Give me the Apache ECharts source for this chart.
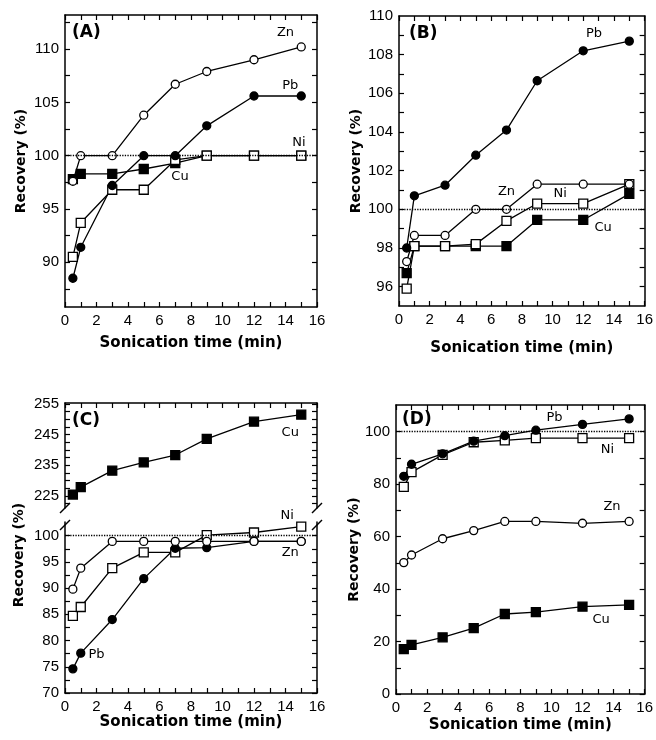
<!DOCTYPE html>
<html>
<head>
<meta charset="utf-8">
<script src="https://cdn.jsdelivr.net/npm/echarts@6.0.0/dist/echarts.min.js"></script>
<style>
  html, body { margin: 0; padding: 0; background: #fff; }
  #chart { width: 656px; height: 740px; }
</style>
</head>
<body>
<div id="chart"></div>
<script>
// sonication time (min)
var times = [0.5, 1, 3, 5, 7, 9, 12, 15];
var xLabels = [0, 2, 4, 6, 8, 10, 12, 14, 16];

// (A)
var aZn = [97.6, 100, 100, 103.8, 106.7, 107.9, 109.0, 110.2];
var aPb = [88.5, 91.4, 97.2, 100, 100, 102.8, 105.6, 105.6];
var aNi = [90.5, 93.7, 96.8, 96.8, 99.6, 100, 100, 100];
var aCu = [97.8, 98.3, 98.3, 98.75, 99.3, 100, 100, 100];
var aText = [[14.0, 111.5, 'Zn'], [14.3, 106.6, 'Pb'], [14.85, 101.2, 'Ni'], [7.3, 98.0, 'Cu']];
var aYLabels = [90, 95, 100, 105, 110];
var aYTicks = [87.5, 90, 92.5, 95, 97.5, 100, 102.5, 105, 107.5, 110, 112.5];

// (B)
var bZn = [97.3, 98.65, 98.65, 100, 100, 101.3, 101.3, 101.3];
var bPb = [98.0, 100.7, 101.25, 102.8, 104.1, 106.65, 108.2, 108.7];
var bNi = [95.9, 98.1, 98.1, 98.2, 99.4, 100.3, 100.3, 101.3];
var bCu = [96.7, 98.1, 98.1, 98.1, 98.1, 99.45, 99.45, 100.8];
var bText = [[12.7, 109.1, 'Pb'], [7.0, 100.9, 'Zn'], [10.5, 100.8, 'Ni'], [13.3, 99.05, 'Cu']];
var bYLabels = [96, 98, 100, 102, 104, 106, 108, 110];
var bYTicks = [96, 97, 98, 99, 100, 101, 102, 103, 104, 105, 106, 107, 108, 109];

// (C) upper part
var cCu = [225.4, 227.8, 233.2, 235.9, 238.3, 243.6, 249.2, 251.5];
var cUpText = [[14.3, 245.7, 'Cu']];
var cUpYLabels = [225, 235, 245, 255];
var cUpYTicks = [222.5, 225, 227.5, 230, 232.5, 235, 237.5, 240, 242.5, 245, 247.5, 250, 252.5, 255];
// (C) lower part
var cZn = [89.8, 93.8, 98.9, 98.9, 98.9, 98.9, 98.9, 98.9];
var cNi = [84.7, 86.4, 93.8, 96.8, 96.8, 100.1, 100.6, 101.7];
var cPb = [74.6, 77.6, 84.0, 91.8, 97.6, 97.7, 98.9, 98.9];
var cLowText = [[14.1, 103.9, 'Ni'], [14.3, 96.7, 'Zn'], [2.0, 77.3, 'Pb']];
var cLowYLabels = [70, 75, 80, 85, 90, 95, 100];
var cLowYTicks = [70, 72.5, 75, 77.5, 80, 82.5, 85, 87.5, 90, 92.5, 95, 97.5, 100];

// (D)
var dPb = [83.0, 87.6, 91.6, 96.4, 98.5, 100.6, 102.8, 104.9];
var dNi = [79.0, 84.6, 91.2, 96.0, 96.7, 97.6, 97.6, 97.6];
var dZn = [50.1, 53.0, 59.2, 62.3, 65.8, 65.8, 65.1, 65.8];
var dCu = [17.1, 18.7, 21.6, 25.1, 30.5, 31.2, 33.3, 34.0];
var dText = [[10.2, 105.3, 'Pb'], [13.6, 93.1, 'Ni'], [13.9, 71.4, 'Zn'], [13.2, 28.2, 'Cu']];
var dYLabels = [0, 20, 40, 60, 80, 100];
var dYTicks = [0, 10, 20, 30, 40, 50, 60, 70, 80, 90, 100];

var BLACK = '#000';
var TICK_FONT = 'Liberation Sans';
var TITLE_FONT = 'DejaVu Sans';

var chart = echarts.init(document.getElementById('chart'), null, { renderer: 'canvas' });

var grids = [], xAxes = [], yAxes = [], series = [];

var lineAx = { show: true, onZero: false, lineStyle: { color: BLACK, width: 1.5 } };
var tickSt = { color: BLACK, width: 1.2 };

function addGrid(box, yMin, yMax, yLabels, yTicks, o) {
  var g = grids.length;
  grids.push(box);
  // bottom x
  xAxes.push({
    gridIndex: g, type: 'value', position: 'bottom', min: 0, max: 16, interval: 2,
    show: o.bottom,
    axisLine: lineAx,
    axisTick: { inside: true, length: 5, lineStyle: tickSt },
    minorTick: { show: true, splitNumber: 2, length: 5, lineStyle: tickSt },
    splitLine: { show: false },
    axisLabel: { color: BLACK, fontFamily: TICK_FONT, fontSize: 15, margin: 6,
      customValues: xLabels },
    name: o.xTitle || '', nameLocation: 'middle', nameGap: o.xGap || 28,
    nameTextStyle: { color: BLACK, fontFamily: TITLE_FONT, fontWeight: 'bold', fontSize: 15 }
  });
  // top x
  xAxes.push({
    gridIndex: g, type: 'value', position: 'top', min: 0, max: 16, interval: 2,
    show: o.top,
    axisLine: lineAx,
    axisTick: { inside: true, length: 5, lineStyle: tickSt },
    minorTick: { show: true, splitNumber: 2, length: 5, lineStyle: tickSt },
    splitLine: { show: false },
    axisLabel: { show: false }
  });
  // left y
  yAxes.push({
    gridIndex: g, type: 'value', position: 'left', min: yMin, max: yMax,
    axisLine: lineAx,
    axisTick: { inside: true, length: 5, customValues: yTicks, lineStyle: tickSt },
    splitLine: { show: false },
    axisLabel: { color: BLACK, fontFamily: TICK_FONT, fontSize: 15, margin: 6, customValues: yLabels },
    name: o.yTitle || '', nameLocation: 'middle', nameGap: o.yGap || 36,
    nameTextStyle: { color: BLACK, fontFamily: TITLE_FONT, fontWeight: 'bold', fontSize: 14 }
  });
  // right y
  yAxes.push({
    gridIndex: g, type: 'value', position: 'right', min: yMin, max: yMax,
    axisLine: lineAx,
    axisTick: { inside: true, length: 5, customValues: yTicks, lineStyle: tickSt },
    splitLine: { show: false },
    axisLabel: { show: false }
  });
  return g;
}

function metal(g, values, shape, filled, withRef) {
  var s = {
    type: 'line',
    xAxisIndex: 2 * g, yAxisIndex: 2 * g,
    data: times.map(function (t, i) { return [t, values[i]]; }),
    symbol: shape, symbolSize: shape === 'rect' ? 9 : 8,
    showSymbol: true,
    itemStyle: { color: filled ? BLACK : '#fff', borderColor: BLACK, borderWidth: 1.3 },
    lineStyle: { color: BLACK, width: 1.3 },
    emphasis: { disabled: true },
    silent: true,
    animation: false
  };
  if (withRef) {
    s.markLine = {
      silent: true, symbol: 'none', animation: false,
      label: { show: false },
      lineStyle: { type: 'dotted', color: BLACK, width: 1.3 },
      data: [{ yAxis: 100 }]
    };
  }
  series.push(s);
}

function tags(g, list) {
  series.push({
    type: 'scatter', xAxisIndex: 2 * g, yAxisIndex: 2 * g,
    data: list, symbolSize: 0.1, clip: false, silent: true, animation: false,
    itemStyle: { color: '#fff', opacity: 1 },
    label: {
      show: true, position: 'inside', color: BLACK, opacity: 1, fontFamily: TITLE_FONT, fontSize: 13,
      formatter: function (p) { return p.value[2]; }
    }
  });
}

function panel(g, sets) {
  // draw order: Cu, Ni, Pb, Zn
  metal(g, sets.Cu, 'rect', true, sets.ref);
  metal(g, sets.Ni, 'rect', false, false);
  metal(g, sets.Pb, 'circle', true, false);
  metal(g, sets.Zn, 'circle', false, false);
}

var XT = 'Sonication time (min)', YT = 'Recovery (%)';

var gA = addGrid({ left: 65, top: 15, width: 252, height: 292 }, 85.8, 113.2, aYLabels, aYTicks,
  { bottom: true, top: true, xTitle: XT, xGap: 29, yTitle: YT, yGap: 37 });
panel(gA, { Cu: aCu, Ni: aNi, Pb: aPb, Zn: aZn, ref: true });
tags(gA, aText);

var gB = addGrid({ left: 399, top: 16, width: 252, height: 290 }, 95, 110, bYLabels, bYTicks,
  { bottom: true, top: true, xTitle: XT, xGap: 35, yTitle: YT, yGap: 36 });
panel(gB, { Cu: bCu, Ni: bNi, Pb: bPb, Zn: bZn, ref: true });
tags(gB, bText);

var gCu = addGrid({ left: 65, top: 403, width: 252, height: 105 }, 221, 255.3, cUpYLabels, cUpYTicks,
  { bottom: false, top: true });
metal(gCu, cCu, 'rect', true, false);
tags(gCu, cUpText);

var gCl = addGrid({ left: 65, top: 522, width: 252, height: 171 }, 70, 102.6, cLowYLabels, cLowYTicks,
  { bottom: true, top: false, xTitle: XT, xGap: 21 });
metal(gCl, cNi, 'rect', false, true);
metal(gCl, cPb, 'circle', true, false);
metal(gCl, cZn, 'circle', false, false);
tags(gCl, cLowText);

var gD = addGrid({ left: 396, top: 405, width: 252, height: 289 }, 0, 110.2, dYLabels, dYTicks,
  { bottom: true, top: true, xTitle: XT, xGap: 24, yTitle: YT, yGap: 30 });
metal(gD, dCu, 'rect', true, false);
metal(gD, dZn, 'circle', false, false);
metal(gD, dNi, 'rect', false, true);
metal(gD, dPb, 'circle', true, false);
tags(gD, dText);

function letter(x, y, t) {
  return { type: 'text', x: x, y: y, silent: true,
    style: { text: t, fill: BLACK, font: 'bold 17px "DejaVu Sans"', textAlign: 'left', textVerticalAlign: 'middle' } };
}
function slash(x, y) {
  return { type: 'line', silent: true, shape: { x1: x - 5, y1: y + 5, x2: x + 5, y2: y - 5 },
    style: { stroke: BLACK, lineWidth: 1.5 } };
}

var graphics = [
  letter(72, 33, '(A)'), letter(409, 34, '(B)'), letter(72, 421, '(C)'), letter(402, 420, '(D)'),
  slash(65, 508), slash(65, 525), slash(317, 508), slash(317, 525),
  { type: 'text', x: 19, y: 555, rotation: Math.PI / 2, silent: true,
    style: { text: YT, fill: BLACK, font: 'bold 14px "DejaVu Sans"', textAlign: 'center', textVerticalAlign: 'middle' } }
];

chart.setOption({
  animation: false,
  backgroundColor: '#fff',
  grid: grids,
  xAxis: xAxes,
  yAxis: yAxes,
  series: series,
  graphic: graphics
});
</script>
</body>
</html>
